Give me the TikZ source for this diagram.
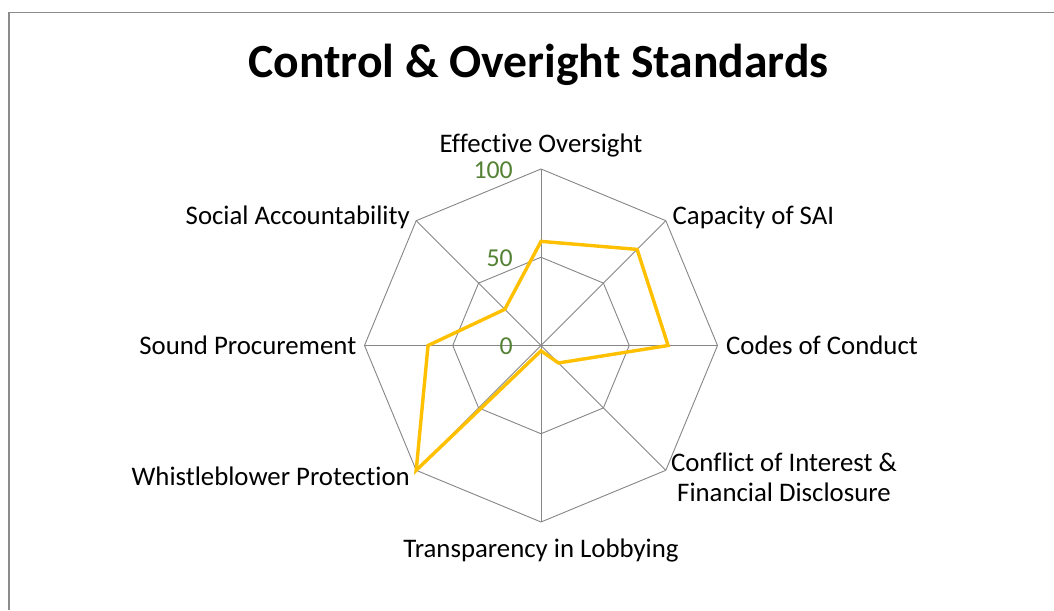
\documentclass[tikz,border=0pt]{standalone}
\usepackage{fontspec}
\setmainfont{Carlito}[Ligatures=NoCommon]
\definecolor{gridgray}{HTML}{868686}
\definecolor{serieswarm}{HTML}{FFC000}
\definecolor{ticgreen}{HTML}{548235}
\definecolor{framegray}{HTML}{8C8C8C}
\begin{document}
\begin{tikzpicture}[x=1pt,y=1pt,
  gridline/.style={draw=gridgray, line width=0.9pt},
  series/.style={draw=serieswarm, line width=3.4pt},
  catlabel/.style={font=\fontsize{26.8}{30}\selectfont, inner sep=0pt, text=black},
  ticklabel/.style={font=\fontsize{25.8}{30}\selectfont, inner sep=0pt, text=ticgreen, anchor=base east},
  titlelabel/.style={font=\bfseries\fontsize{47.6}{55}\selectfont, inner sep=0pt, anchor=base}]
\useasboundingbox (0,0) rectangle (1054,610);
\fill[white] (0,0) rectangle (1054,610);
\draw[framegray, line width=1.2pt] (9,0) -- (9,597.5) -- (1054,597.5);
\node[titlelabel] (title) at (538.5,532) {Control \& Overight Standards};
\coordinate (c) at (541,264.5);
\foreach \i in {0,...,7} {
  \path (c) ++({90-45*\i}:176.5) coordinate (v\i);
  \path (c) ++({90-45*\i}:88.25) coordinate (h\i);
}
\draw[gridline] (v0) -- (v1) -- (v2) -- (v3) -- (v4) -- (v5) -- (v6) -- (v7) -- cycle;
\draw[gridline] (h0) -- (h1) -- (h2) -- (h3) -- (h4) -- (h5) -- (h6) -- (h7) -- cycle;
\foreach \i in {0,...,7} { \draw[gridline] (c) -- (v\i); }
\foreach \i/\val in {0/59,1/77,2/72,3/14,4/3,5/100,6/64,7/29} {
  \path (c) ++({90-45*\i}:{1.765*\val}) coordinate (d\i);
}
\draw[series] (d0) -- (d1) -- (d2) -- (d3) -- (d4) -- (d5) -- (d6) -- (d7) -- cycle;
\node[ticklabel] (t100) at (513,431) {100};
\node[ticklabel] (t50) at (513,343) {50};
\node[ticklabel] (t0) at (513,255) {0};
\node[catlabel, anchor=base] (l0) at (541,457) {Effective Oversight};
\node[catlabel, anchor=base west] (l1) at (672.5,385.5) {Capacity of SAI};
\node[catlabel, anchor=base west] (l2) at (726,255.7) {Codes of Conduct};
\node[catlabel, align=center, anchor=center] (l3) at (784,132.5) {Conflict of Interest \&\\Financial Disclosure};
\node[catlabel, anchor=base] (l4) at (541,52.5) {Transparency in Lobbying};
\node[catlabel, anchor=base east] (l5) at (410,124.7) {Whistleblower Protection};
\node[catlabel, anchor=base east] (l6) at (356.5,255.7) {Sound Procurement};
\node[catlabel, anchor=base east] (l7) at (410,385.5) {Social Accountability};
\end{tikzpicture}
\end{document}
